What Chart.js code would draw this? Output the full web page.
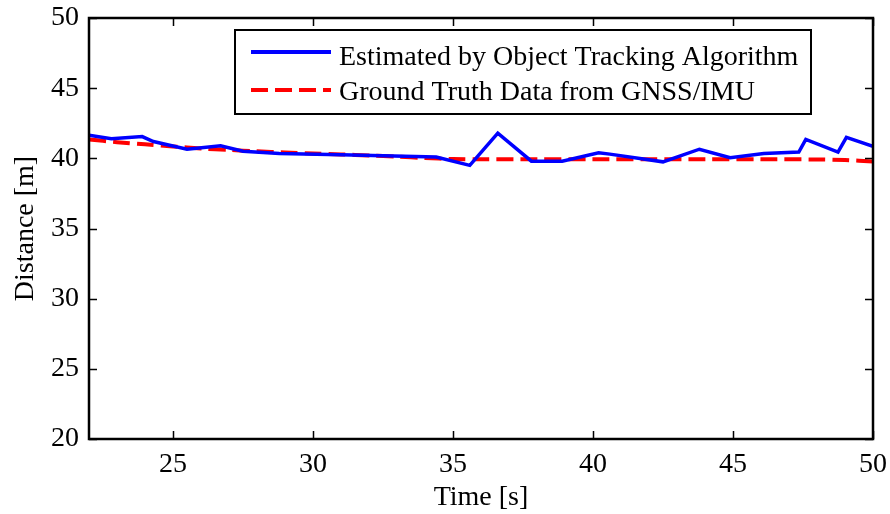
<!DOCTYPE html>
<html>
<head>
<meta charset="utf-8">
<script src="https://cdn.jsdelivr.net/npm/chart.js@4.4.0/dist/chart.umd.min.js"></script>
<style>
html,body{margin:0;padding:0;background:#fff;}
#wrap{width:890px;height:514px;position:relative;}
</style>
</head>
<body>
<div id="wrap"><canvas id="c" width="890" height="514"></canvas></div>
<script>
const estTime = [22.0, 22.8, 23.9, 24.3, 25.5, 26.7, 27.5, 28.8, 31.0, 34.4, 35.6, 36.6, 37.8, 38.9, 40.2, 40.6, 42.5, 43.8, 44.9, 46.1, 47.35, 47.6, 48.75, 49.05, 50.0];
const estDist = [41.65, 41.4, 41.55, 41.2, 40.65, 40.9, 40.5, 40.35, 40.25, 40.1, 39.5, 41.8, 39.8, 39.8, 40.4, 40.3, 39.75, 40.65, 40.05, 40.35, 40.45, 41.35, 40.45, 41.5, 40.85];
const gtTime = [22, 23, 24, 25, 26, 27, 28, 29, 30, 31, 32, 33, 34, 35, 36, 38, 40, 42, 44, 46, 48, 49, 50];
const gtDist = [41.35, 41.15, 41.0, 40.85, 40.7, 40.6, 40.5, 40.42, 40.35, 40.28, 40.2, 40.12, 40.02, 39.95, 39.93, 39.93, 39.93, 39.93, 39.93, 39.93, 39.92, 39.88, 39.78];
const xTicks = [25, 30, 35, 40, 45, 50];
const yTicks = [20, 25, 30, 35, 40, 45, 50];
const seriesLabels = ['Estimated by Object Tracking Algorithm', 'Ground Truth Data from GNSS/IMU'];

const FONT = '"Liberation Serif", "Times New Roman", serif';

const frame = {
  id: 'frame',
  afterDatasetsDraw(chart) {
    const {ctx, chartArea: a, scales: {x, y}} = chart;
    ctx.save();
    ctx.strokeStyle = '#000';
    ctx.lineWidth = 1.5;
    const tl = 8;
    ctx.beginPath();
    xTicks.forEach(v => {
      const px = Math.round(x.getPixelForValue(v)) + 0.5;
      ctx.moveTo(px, a.bottom); ctx.lineTo(px, a.bottom - tl);
      ctx.moveTo(px, a.top); ctx.lineTo(px, a.top + tl);
    });
    yTicks.forEach(v => {
      const py = Math.round(y.getPixelForValue(v)) + 0.5;
      ctx.moveTo(a.left, py); ctx.lineTo(a.left + tl, py);
      ctx.moveTo(a.right, py); ctx.lineTo(a.right - tl, py);
    });
    ctx.stroke();
    ctx.lineWidth = 2.5;
    ctx.strokeRect(a.left, a.top, a.right - a.left, a.bottom - a.top);

    // legend box
    const bx = 235, by = 30, bw = 576, bh = 84;
    ctx.fillStyle = '#fff';
    ctx.fillRect(bx, by, bw, bh);
    ctx.lineWidth = 2;
    ctx.strokeStyle = '#000';
    ctx.strokeRect(bx, by, bw, bh);
    const lineY = [52, 90];
    const textY = [65, 100];
    chart.data.datasets.forEach((ds, i) => {
      ctx.beginPath();
      ctx.strokeStyle = ds.borderColor;
      ctx.lineWidth = 4;
      ctx.setLineDash(ds.borderDash || []);
      ctx.moveTo(251, lineY[i]); ctx.lineTo(331, lineY[i]);
      ctx.stroke();
      ctx.setLineDash([]);
      ctx.fillStyle = '#000';
      ctx.font = '28px ' + FONT;
      ctx.textBaseline = 'alphabetic';
      ctx.textAlign = 'left';
      ctx.fillText(ds.label, 339, textY[i]);
    });
    ctx.restore();
  }
};

new Chart(document.getElementById('c'), {
  type: 'line',
  data: {
    datasets: [
      {
        label: seriesLabels[0],
        data: estTime.map((t, i) => ({x: t, y: estDist[i]})),
        borderColor: '#0000ff',
        borderWidth: 3.5,
        pointRadius: 0,
        tension: 0,
        fill: false
      },
      {
        label: seriesLabels[1],
        data: gtTime.map((t, i) => ({x: t, y: gtDist[i]})),
        borderColor: '#ff0000',
        borderWidth: 4,
        borderDash: [17, 7],
        pointRadius: 0,
        tension: 0.3,
        fill: false
      }
    ]
  },
  options: {
    responsive: false,
    animation: false,
    devicePixelRatio: 1,
    layout: {padding: {top: 18, right: 17, left: 0, bottom: 0}},
    plugins: {legend: {display: false}, tooltip: {enabled: false}},
    scales: {
      x: {
        type: 'linear', min: 22, max: 50,
        afterBuildTicks: s => { s.ticks = xTicks.map(v => ({value: v})); },
        afterFit: s => { s.height = 75; s.paddingLeft = 0; s.paddingRight = 0; },
        grid: {display: false, drawTicks: false},
        border: {display: false},
        ticks: {color: '#000', font: {family: FONT, size: 28}, padding: 9, maxRotation: 0},
        title: {display: true, text: 'Time [s]', color: '#000', font: {family: FONT, size: 28}, padding: {top: 0, bottom: 0}}
      },
      y: {
        type: 'linear', min: 20, max: 50,
        afterBuildTicks: s => { s.ticks = yTicks.map(v => ({value: v})); },
        afterFit: s => { s.width = 89; s.paddingTop = 0; s.paddingBottom = 0; },
        grid: {display: false, drawTicks: false},
        border: {display: false},
        ticks: {color: '#000', font: {family: FONT, size: 28}, padding: 10},
        title: {display: true, text: 'Distance [m]', color: '#000', font: {family: FONT, size: 28}, padding: {top: 9, bottom: 0}}
      }
    }
  },
  plugins: [frame]
});
</script>
</body>
</html>
